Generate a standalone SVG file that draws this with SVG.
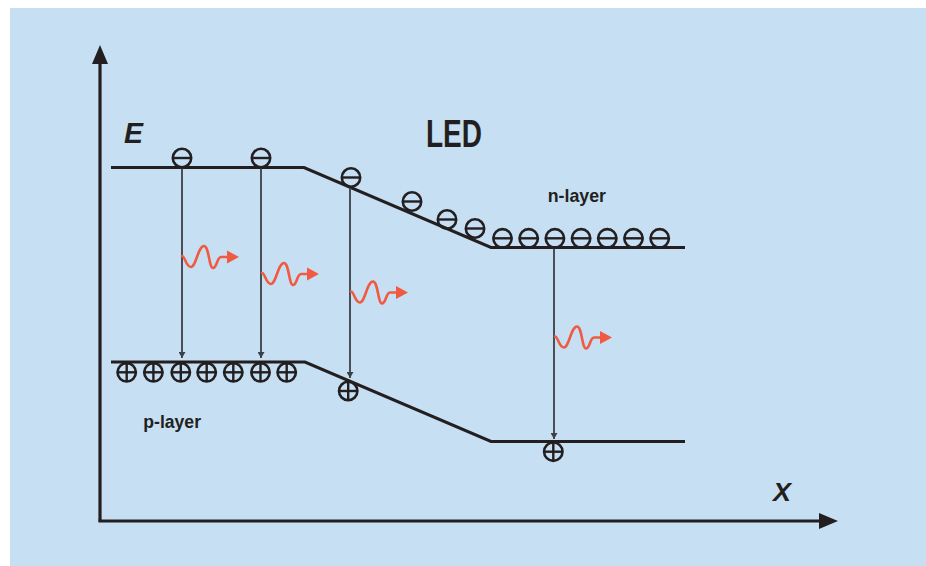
<svg xmlns="http://www.w3.org/2000/svg" width="926" height="566" viewBox="0 0 926 566">
<defs>
<style>
.band{fill:none;stroke:#231f20;stroke-width:3;stroke-linejoin:miter}
.axis{fill:none;stroke:#231f20;stroke-width:3.2}
.trans{stroke:#3b3f47;stroke-width:1.8;fill:none}
.ph{fill:none;stroke:#f15a40;stroke-width:2.6;stroke-linecap:round;stroke-linejoin:round}
.pha{fill:#f15a40}
.sym circle{fill:none;stroke:#231f20;stroke-width:2.6}
.sym line{stroke:#231f20;stroke-width:2.4}
.lbl{font-family:"Liberation Sans",Arial,sans-serif;font-weight:bold;fill:#231f20}
</style>
<g id="e" class="sym"><circle r="9.2"/><line x1="-9.2" y1="0" x2="9.2" y2="0"/></g>
<g id="h" class="sym"><circle r="9.2"/><line x1="-9.2" y1="0" x2="9.2" y2="0"/><line x1="0" y1="-9.2" x2="0" y2="9.2"/></g>
<g id="photon"><path class="ph" d="M0,0 C3,0 4,11 9,11 C14,11 16,-10 22,-10 C27,-10 27,12 31,12 C35,12 35,1 39,1 L46,1"/><polygon class="pha" points="45,-5.5 57,1 45,7.5"/></g>
<marker id="tarr" markerUnits="userSpaceOnUse" markerWidth="7" markerHeight="7" refX="6" refY="3.5" orient="auto"><path d="M0,0 L6,3.5 L0,7 z" fill="#3b3f47"/></marker>
</defs>
<rect x="10" y="8" width="916" height="558" fill="#c6dff3"/>
<g id="axes">
<line class="axis" x1="100" y1="521" x2="100" y2="60"/>
<polygon points="100,45 108,64 92,64" fill="#231f20"/>
<line class="axis" x1="98.4" y1="521" x2="823" y2="521"/>
<polygon points="838,521 819,513 819,529" fill="#231f20"/>
</g>
<g id="bands">
<polyline id="conduction-band" class="band" points="111,167.5 304,167.5 491,247.5 685,247.5"/>
<polyline id="valence-band" class="band" points="111,362 305,362 491,441.5 685,441.5"/>
</g>
<g id="connectors">
<line class="trans" x1="182" y1="168" x2="182" y2="358" marker-end="url(#tarr)"/>
<line class="trans" x1="261" y1="168" x2="261" y2="358" marker-end="url(#tarr)"/>
<line class="trans" x1="350" y1="187" x2="350" y2="378" marker-end="url(#tarr)"/>
<line class="trans" x1="554" y1="248" x2="554" y2="439" marker-end="url(#tarr)"/>
</g>
<g id="electrons">
<use href="#e" x="182" y="158"/>
<use href="#e" x="261" y="158"/>
<use href="#e" x="351" y="177.5"/>
<use href="#e" x="412" y="201.5"/>
<use href="#e" x="447" y="219.5"/>
<use href="#e" x="475" y="228.5"/>
<use href="#e" x="502.5" y="238.3"/>
<use href="#e" x="528.7" y="238.3"/>
<use href="#e" x="554.9" y="238.3"/>
<use href="#e" x="581.1" y="238.3"/>
<use href="#e" x="607.3" y="238.3"/>
<use href="#e" x="633.5" y="238.3"/>
<use href="#e" x="659.7" y="238.3"/>
</g>
<g id="holes">
<use href="#h" x="126.7" y="372.3"/>
<use href="#h" x="153.4" y="372.3"/>
<use href="#h" x="180.8" y="372.3"/>
<use href="#h" x="206.7" y="372.3"/>
<use href="#h" x="233.3" y="372.3"/>
<use href="#h" x="260.5" y="372.3"/>
<use href="#h" x="286.7" y="372.3"/>
<use href="#h" x="348.2" y="391"/>
<use href="#h" x="553.3" y="451.7"/>
</g>
<g id="photons">
<use href="#photon" x="182" y="256"/>
<use href="#photon" x="262" y="273"/>
<use href="#photon" x="351" y="291.5"/>
<use href="#photon" x="555" y="336.5"/>
</g>
<g id="labels">
<text class="lbl" x="124" y="143.3" font-size="30" font-style="italic" textLength="19" lengthAdjust="spacingAndGlyphs">E</text>
<text class="lbl" x="426" y="147.3" font-size="39" textLength="56" lengthAdjust="spacingAndGlyphs">LED</text>
<text class="lbl" x="547.7" y="201.7" font-size="18.5" textLength="58.3" lengthAdjust="spacingAndGlyphs">n-layer</text>
<text class="lbl" x="143.3" y="428.3" font-size="18.5" textLength="57.7" lengthAdjust="spacingAndGlyphs">p-layer</text>
<text class="lbl" x="773" y="501" font-size="25.5" font-style="italic" textLength="18" lengthAdjust="spacingAndGlyphs">X</text>
</g>
</svg>
